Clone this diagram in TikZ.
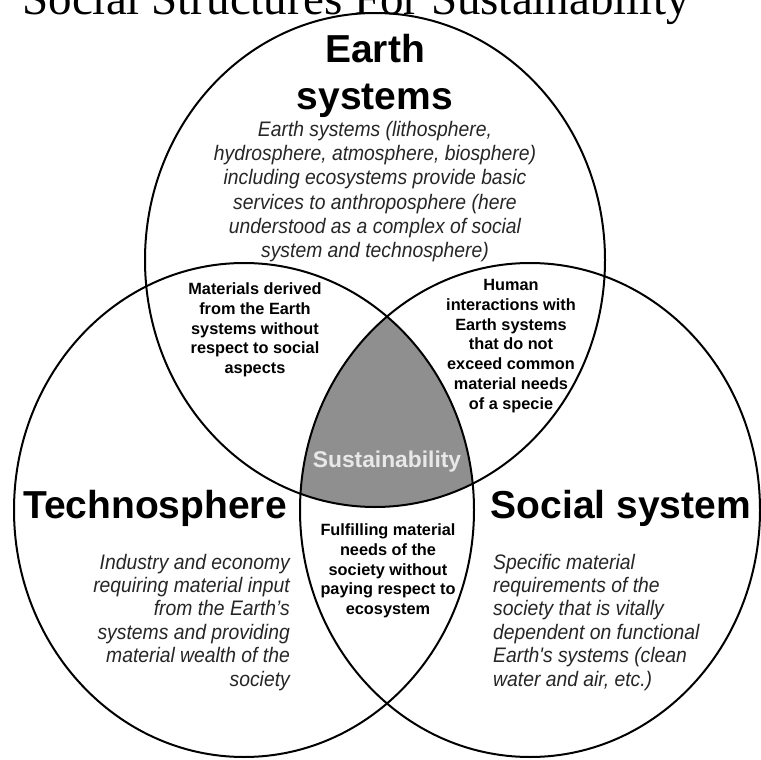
\documentclass[tikz,border=0pt]{standalone}
\usepackage{fontspec}
\setmainfont{Liberation Sans}
\newfontfamily\titlefont{Liberation Serif}
\newcommand{\desclines}[3]{\scalebox{0.92}[1]{\fontsize{21}{#2}\selectfont\itshape\begin{tabular}[t]{@{}#1@{}}#3\end{tabular}}}
\begin{document}
\begin{tikzpicture}[x=1pt,y=-1pt,
  ell/.style={draw=black, line width=2pt},
  head/.style={font=\fontsize{39}{47}\selectfont\bfseries, align=center, inner sep=0pt},
  desc/.style={text=black!85, inner sep=0pt, anchor=base},
  lens/.style={font=\fontsize{16.3}{19.7}\selectfont\bfseries, align=center, inner sep=0pt}]
\definecolor{sustgray}{RGB}{143,143,143}
\definecolor{sustxt}{RGB}{232,232,232}
\useasboundingbox (0,0) rectangle (761,760);
\fill[white] (0,0) rectangle (761,760);
% title (cut off at top)
\node[anchor=base, inner sep=0pt, font=\titlefont\fontsize{47}{47}\selectfont] (title) at (356,15) {Social Structures For Sustainability};
% shaded intersection
\begin{scope}
  \clip (375,260) ellipse [x radius=230, y radius=247];
  \clip (244,510) ellipse [x radius=230, y radius=247];
  \fill[sustgray] (530,510) ellipse [x radius=230, y radius=247];
\end{scope}
% ellipses
\draw[ell] (375,260) ellipse [x radius=230, y radius=247];
\draw[ell] (244,510) ellipse [x radius=230, y radius=247];
\draw[ell] (530,510) ellipse [x radius=230, y radius=247];
% headings
\node[head, anchor=north] (earth) at (375,34) {Earth\\systems};
\node[head, anchor=base] (techno) at (155,518) {Technosphere};
\node[head, anchor=base] (social) at (621,518) {Social system};
% descriptions
\node[desc] (earthdesc) at (375,136) {\desclines{c}{24.4}{Earth systems (lithosphere,\\hydrosphere, atmosphere, biosphere)\\including ecosystems provide basic\\services to anthroposphere (here\\understood as a complex of social\\system and technosphere)}};
\node[desc, anchor=base east] (technodesc) at (290,569) {\desclines{r}{23.4}{Industry and economy\\requiring material input\\from the Earth’s\\systems and providing\\material wealth of the\\society}};
\node[desc, anchor=base west] (socialdesc) at (493,569) {\desclines{l}{23.4}{Specific material\\requirements of the\\society that is vitally\\dependent on functional\\Earth\textquotesingle s systems (clean\\water and air, etc.)}};
% lens texts
\node[lens] (matlens) at (255,330) {Materials derived\\from the Earth\\systems without\\respect to social\\aspects};
\node[lens] (humlens) at (511,346) {Human\\interactions with\\Earth systems\\that do not\\exceed common\\material needs\\of a specie};
\node[lens] (fullens) at (388,571) {Fulfilling material\\needs of the\\society without\\paying respect to\\ecosystem};
\node[font=\fontsize{22.8}{24}\selectfont\bfseries, text=sustxt, inner sep=0pt] (sust) at (387,462) {Sustainability};
\end{tikzpicture}
\end{document}
